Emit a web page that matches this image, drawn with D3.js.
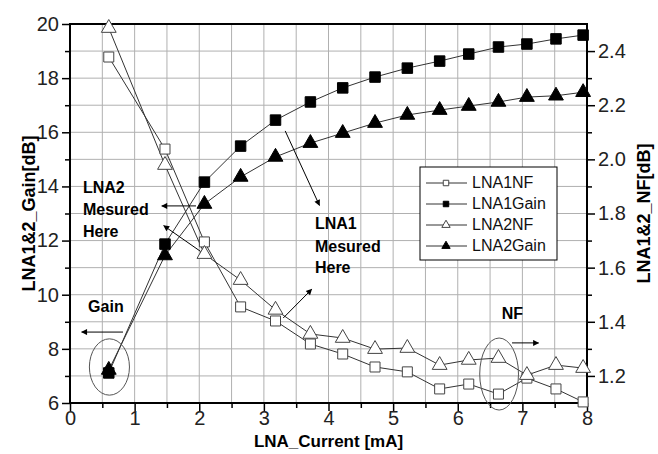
<!DOCTYPE html>
<html>
<head>
<meta charset="utf-8">
<script src="https://cdn.jsdelivr.net/npm/d3@7"></script>
<style>
  body { margin: 0; background: #fff; }
  svg { font-family: "Liberation Sans", Arial, sans-serif; }
</style>
</head>
<body>
<script>
(function(){

	//current values [mA], same for all four series
	var current = [0.6, 1.47, 2.08, 2.64, 3.18, 3.72, 4.22, 4.72, 5.22, 5.72, 6.17, 6.63, 7.07, 7.52, 7.94];

	//noise figure series [dB], right axis
	var lna1NF = [2.378, 2.038, 1.695, 1.455, 1.403, 1.318, 1.281, 1.233, 1.215, 1.152, 1.170, 1.133, 1.192, 1.152, 1.104];
	var lna2NF = [2.485, 1.979, 1.650, 1.554, 1.444, 1.355, 1.340, 1.299, 1.303, 1.240, 1.259, 1.266, 1.203, 1.240, 1.229];

	//gain series [dB], left axis
	var lna1Gain = [7.11, 11.87, 14.16, 15.49, 16.45, 17.12, 17.64, 18.04, 18.37, 18.63, 18.89, 19.15, 19.26, 19.45, 19.59];
	var lna2Gain = [7.22, 11.45, 13.35, 14.35, 15.09, 15.60, 15.97, 16.34, 16.64, 16.82, 16.97, 17.12, 17.30, 17.35, 17.48];

	//tick values
	var xTicks = [0, 1, 2, 3, 4, 5, 6, 7, 8];
	var gainTicks = [6, 8, 10, 12, 14, 16, 18, 20];
	var nfTicks = [1.2, 1.4, 1.6, 1.8, 2.0, 2.2, 2.4];

	var width = 658, height = 454;
	var left = 70, right = 587, top = 24, bottom = 403;

	var svg = d3.select("body").append("svg")
		.attr("width", width)
		.attr("height", height);

	var x = d3.scaleLinear().domain([0, 8]).range([left, right]);
	var yG = d3.scaleLinear().domain([6, 20]).range([bottom, top]);
	var yN = d3.scaleLinear().domain([1.1, 2.5]).range([bottom, top]);

	//grid, every half mA and every dB
	var grid = svg.append("g").attr("stroke", "#b0b0b0").attr("stroke-width", 1);
	grid.selectAll(".gx").data(d3.range(0.5, 8, 0.5)).enter().append("line")
		.attr("x1", function(d){ return x(d); }).attr("x2", function(d){ return x(d); })
		.attr("y1", top).attr("y2", bottom);
	grid.selectAll(".gy").data(d3.range(7, 20, 1)).enter().append("line")
		.attr("y1", function(d){ return yG(d); }).attr("y2", function(d){ return yG(d); })
		.attr("x1", left).attr("x2", right);

	//axes with minor ticks
	function styleAxis(g){
		g.selectAll("text").attr("font-size", 20).attr("fill", "#222");
		g.selectAll("line").attr("stroke", "#000").attr("stroke-width", 1.5);
		g.select(".domain").remove();
	}
	svg.append("g").attr("transform", "translate(0," + bottom + ")")
		.call(d3.axisBottom(x).tickValues(d3.range(0.5, 8, 1)).tickSize(5).tickFormat(""))
		.call(styleAxis);
	svg.append("g").attr("transform", "translate(0," + bottom + ")")
		.call(d3.axisBottom(x).tickValues(xTicks).tickSize(8).tickPadding(0).tickFormat(d3.format("d")))
		.call(styleAxis);
	svg.append("g").attr("transform", "translate(" + left + ",0)")
		.call(d3.axisLeft(yG).tickValues(d3.range(7, 20, 2)).tickSize(5).tickFormat(""))
		.call(styleAxis);
	svg.append("g").attr("transform", "translate(" + left + ",0)")
		.call(d3.axisLeft(yG).tickValues(gainTicks).tickSize(8).tickPadding(3))
		.call(styleAxis);
	svg.append("g").attr("transform", "translate(" + right + ",0)")
		.call(d3.axisRight(yN).tickValues([1.3, 1.5, 1.7, 1.9, 2.1, 2.3]).tickSize(5).tickFormat(""))
		.call(styleAxis);
	svg.append("g").attr("transform", "translate(" + right + ",0)")
		.call(d3.axisRight(yN).tickValues(nfTicks).tickSize(8).tickPadding(3).tickFormat(d3.format(".1f")))
		.call(styleAxis);

	//frame
	svg.append("rect")
		.attr("x", left).attr("y", top)
		.attr("width", right - left).attr("height", bottom - top)
		.attr("fill", "none").attr("stroke", "#000").attr("stroke-width", 2);

	//axis titles
	svg.append("text").attr("x", (left + right) / 2).attr("y", 447)
		.attr("text-anchor", "middle").attr("font-size", 17).attr("font-weight", "bold")
		.text("LNA_Current [mA]");
	svg.append("text").attr("transform", "translate(35," + (top + bottom) / 2 + ") rotate(-90)")
		.attr("text-anchor", "middle").attr("font-size", 18).attr("font-weight", "bold")
		.text("LNA1&2_Gain[dB]");
	svg.append("text").attr("transform", "translate(650," + (top + bottom) / 2 + ") rotate(-90)")
		.attr("text-anchor", "middle").attr("font-size", 18).attr("font-weight", "bold")
		.text("LNA1&2_NF[dB]");

	//series
	var series = [
		{name: "LNA1NF", values: lna1NF, y: yN, shape: d3.symbolSquare, filled: false, size: 100},
		{name: "LNA1Gain", values: lna1Gain, y: yG, shape: d3.symbolSquare, filled: true, size: 110},
		{name: "LNA2NF", values: lna2NF, y: yN, shape: d3.symbolTriangle, filled: false, size: 95},
		{name: "LNA2Gain", values: lna2Gain, y: yG, shape: d3.symbolTriangle, filled: true, size: 95}
	];

	var line = d3.line();
	series.forEach(function(s){
		var pts = current.map(function(c, i){ return [x(c), s.y(s.values[i])]; });
		svg.append("path")
			.attr("d", line(pts))
			.attr("fill", "none").attr("stroke", "#333").attr("stroke-width", 1);
	});
	series.forEach(function(s){
		svg.selectAll(".m" + s.name).data(current).enter().append("path")
			.attr("transform", function(c, i){ return "translate(" + x(c) + "," + s.y(s.values[i]) + ")"; })
			.attr("d", d3.symbol().type(s.shape).size(s.size))
			.attr("fill", s.filled ? "#000" : "#fff")
			.attr("stroke", s.filled ? "#000" : "#444")
			.attr("stroke-width", 1);
	});

	//arrow head marker
	svg.append("defs").append("marker")
		.attr("id", "head").attr("viewBox", "0 0 10 10")
		.attr("refX", 9).attr("refY", 5)
		.attr("markerWidth", 9).attr("markerHeight", 6)
		.attr("markerUnits", "userSpaceOnUse")
		.attr("orient", "auto")
		.append("path").attr("d", "M0,0L10,5L0,10z").attr("fill", "#000");

	//annotation arrows, in data units [x1, g1, x2, g2]
	var arrows = [
		[0.82, 8.62, 0.18, 8.62],
		[6.84, 8.22, 7.25, 8.22],
		[1.95, 13.28, 1.42, 13.28],
		[2.02, 11.60, 1.45, 12.55],
		[3.33, 16.05, 3.86, 13.30],
		[3.30, 9.14, 3.74, 10.20]
	];
	svg.selectAll(".arrow").data(arrows).enter().append("line")
		.attr("x1", function(d){ return x(d[0]); }).attr("y1", function(d){ return yG(d[1]); })
		.attr("x2", function(d){ return x(d[2]); }).attr("y2", function(d){ return yG(d[3]); })
		.attr("stroke", "#000").attr("stroke-width", 1)
		.attr("marker-end", "url(#head)");

	//ellipses round the first gain points and the NF dip
	var rings = [[0.61, 7.33, 0.31, 1.04], [6.64, 7.07, 0.30, 1.33]];
	svg.selectAll(".ring").data(rings).enter().append("ellipse")
		.attr("cx", function(d){ return x(d[0]); }).attr("cy", function(d){ return yG(d[1]); })
		.attr("rx", function(d){ return x(d[2]) - x(0); })
		.attr("ry", function(d){ return yG(0) - yG(d[3]); })
		.attr("fill", "none").attr("stroke", "#555").attr("stroke-width", 1);

	//annotation texts
	var notes = [
		{t: "LNA2", x: 0.2, g: 13.76},
		{t: "Mesured", x: 0.2, g: 12.95},
		{t: "Here", x: 0.2, g: 12.13},
		{t: "LNA1", x: 3.79, g: 12.43},
		{t: "Mesured", x: 3.79, g: 11.58},
		{t: "Here", x: 3.79, g: 10.80},
		{t: "Gain", x: 0.28, g: 9.36},
		{t: "NF", x: 6.68, g: 9.10}
	];
	svg.selectAll(".note").data(notes).enter().append("text")
		.attr("x", function(d){ return x(d.x); }).attr("y", function(d){ return yG(d.g); })
		.attr("font-size", 16).attr("font-weight", "bold")
		.text(function(d){ return d.t; });

	//legend
	var lg = svg.append("g").attr("transform", "translate(420,167)");
	lg.append("rect").attr("width", 137).attr("height", 93)
		.attr("fill", "#fff").attr("stroke", "#000").attr("stroke-width", 1);
	series.forEach(function(s, i){
		var yy = 21 + i * 21;
		lg.append("line").attr("x1", 6).attr("x2", 47).attr("y1", yy - 5).attr("y2", yy - 5)
			.attr("stroke", "#333").attr("stroke-width", 1);
		lg.append("path")
			.attr("transform", "translate(26," + (yy - 5) + ")")
			.attr("d", d3.symbol().type(s.shape).size(30))
			.attr("fill", s.filled ? "#000" : "#fff")
			.attr("stroke", s.filled ? "#000" : "#444");
		lg.append("text").attr("x", 52).attr("y", yy)
			.attr("font-size", 16).attr("fill", "#111")
			.text(s.name);
	});

})();
</script>
</body>
</html>
